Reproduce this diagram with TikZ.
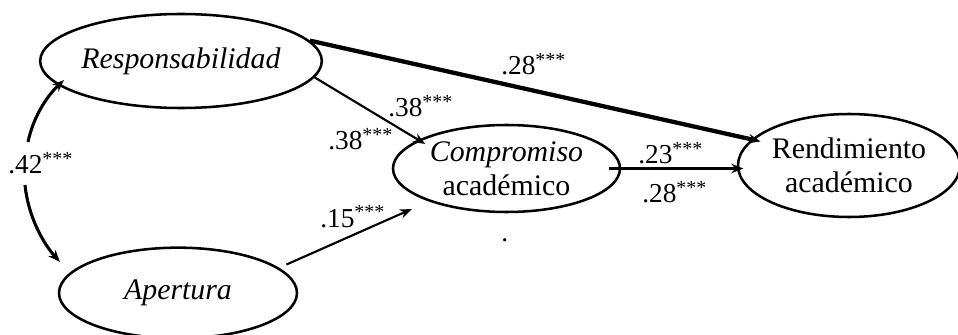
\documentclass[tikz,border=0pt]{standalone}
\usepackage{fontspec}
\setmainfont{Liberation Serif}
\usetikzlibrary{arrows.meta,shapes.geometric}
\newcommand{\mystars}{\raisebox{6pt}{\fontsize{15}{15}\selectfont ***}}
\begin{document}
\begin{tikzpicture}[x=0.75pt,y=-0.75pt,
  ell/.style={ellipse,draw,line width=1.9pt,inner sep=0pt,align=center,font=\fontsize{22.4}{25.5}\selectfont},
  lab/.style={inner sep=0pt,anchor=base west,font=\fontsize{20.5}{22}\selectfont},
  arr/.style={-{Stealth[length=9pt,width=7pt]}},
  thin/.style={arr,line width=1.6pt},
  mid/.style={arr,line width=2.3pt},
  thick/.style={arr,line width=3.2pt},
]
\useasboundingbox (0,0) rectangle (958,335);
% nodes
\node[ell,minimum width=181.5pt,minimum height=70.5pt] (resp) at (181,61) {\textit{Responsabilidad}};
\node[ell,minimum width=178.5pt,minimum height=68pt] (apert) at (178,293) {\textit{Apertura}};
\node[ell,minimum width=170.25pt,minimum height=65.25pt] (comp) at (506.5,168.5) {\textit{Compromiso}\\académico};
\node[ell,minimum width=166.5pt,minimum height=77.25pt] (rend) at (849,165.5) {Rendimiento\\académico};
% labels
\node[lab] (l28a) at (501,75) {.28\mystars};
\node[lab] (l38a) at (388,117) {.38\mystars};
\node[lab] (l38b) at (328,150) {.38\mystars};
\node[lab] (l15) at (320,227) {.15\mystars};
\node[lab] (l23) at (638,164) {.23\mystars};
\node[lab] (l28b) at (642,203) {.28\mystars};
\node[lab] (l42) at (8,174) {.42\mystars};
\node[lab] (dot) at (501,242) {.};
% correlation arrow
\coordinate (a42) at (28,142);
\coordinate (b42) at (25,185);
\coordinate (t42a) at (64,80);
\coordinate (t42b) at (60,262);
\draw[mid] (a42) .. controls (33,118) and (46,97) .. (t42a);
\draw[mid] (b42) .. controls (28,215) and (42,242) .. (t42b);
% paths
\draw[thick,shorten >=-7pt] (resp.9) -- (rend.165);
\draw[thin,shorten >=-6pt] (resp.-7) -- (comp.162);
\draw[thin,shorten <=6pt,shorten >=14pt] (apert.14) -- (comp.203);
\draw[mid,shorten <=-9pt,shorten >=-5pt] (comp.east) -- (comp.east -| rend.west);
\end{tikzpicture}
\end{document}
